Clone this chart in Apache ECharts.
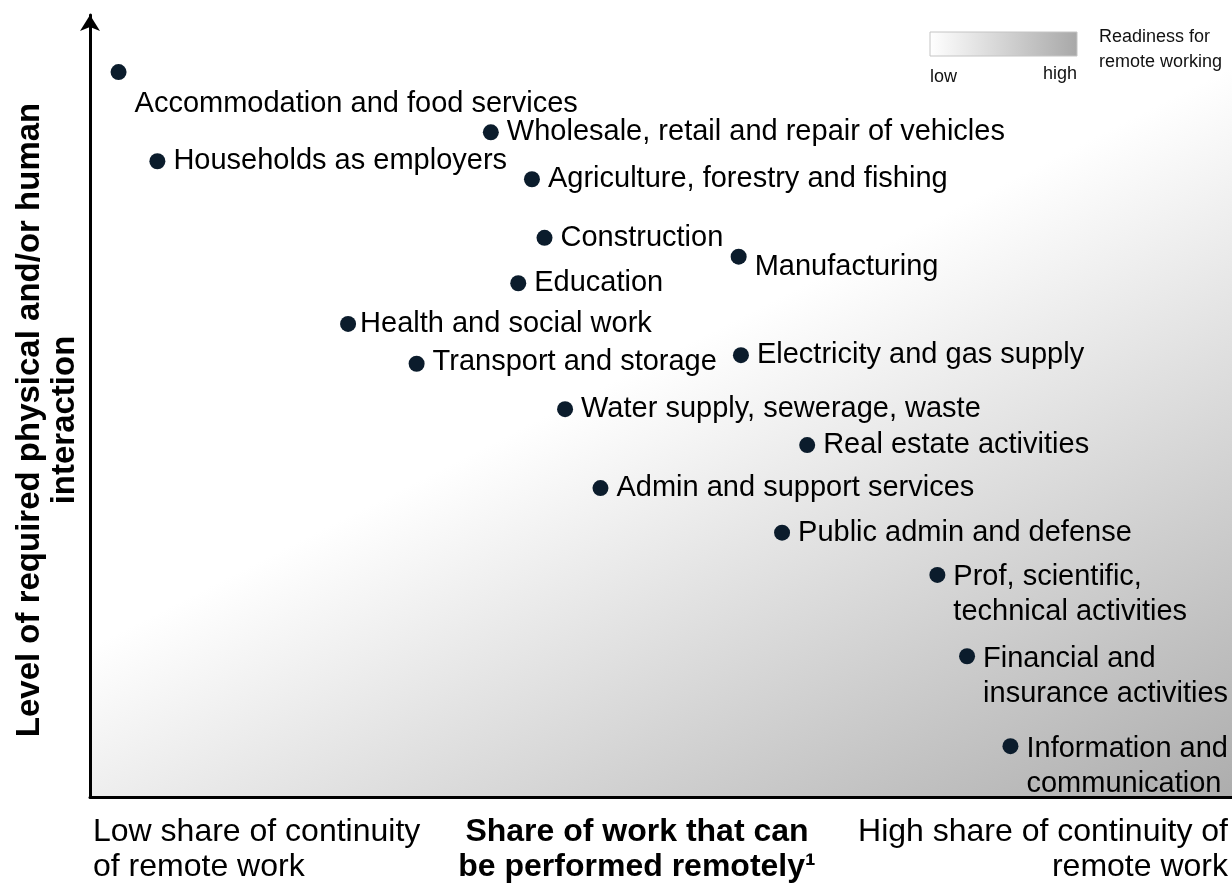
<!DOCTYPE html>
<html>
<head>
<meta charset="utf-8">
<script src="https://cdn.jsdelivr.net/npm/echarts@6/dist/echarts.min.js"></script>
<style>
html,body{margin:0;padding:0;background:#fff}
#chart{width:1232px;height:885px}
</style>
</head>
<body>
<div id="chart"></div>
<script>
// sectors (x = share remote, y = physical interaction, 0-100)
var sectors = [
    'Accommodation and food services',
    'Wholesale, retail and repair of vehicles',
    'Households as employers',
    'Agriculture, forestry and fishing',
    'Construction',
    'Manufacturing',
    'Education',
    'Health and social work',
    'Transport and storage',
    'Electricity and gas supply',
    'Water supply, sewerage, waste',
    'Real estate activities',
    'Admin and support services',
    'Public admin and defense',
    'Prof, scientific,\ntechnical activities',
    'Financial and\ninsurance activities',
    'Information and\ncommunication'
];
var remoteShare = [2.5, 35.1, 5.9, 38.7, 39.8, 56.8, 37.5, 22.6, 28.6, 57.0, 41.6, 62.8, 44.7, 60.6, 74.2, 76.8, 80.6];
var interaction = [92.7, 85.0, 81.3, 79.0, 71.5, 69.1, 65.7, 60.5, 55.4, 56.5, 49.6, 45.0, 39.5, 33.8, 28.4, 18.0, 6.5];

// label nudges (pixels), by sector index
var labelOffset = {0: [0, 32], 5: [0, 10], 7: [-4, 0], 8: [0, -2], 14: [0, 20], 15: [0, 20], 16: [0, 20]};

var font = '"Liberation Sans", Arial, sans-serif';

var points = sectors.map(function (name, i) {
    var item = {name: name, value: [remoteShare[i], interaction[i]]};
    if (labelOffset[i]) {
        item.label = {offset: labelOffset[i]};
    }
    return item;
});

var option = {
    animation: false,
    grid: {
        left: 90, right: 0, top: 15, bottom: 88,
        show: true, borderWidth: 0,
        backgroundColor: new echarts.graphic.LinearGradient(0.742, 0.258, 1, 1, [
            {offset: 0, color: '#ffffff'},
            {offset: 1, color: '#adadad'}
        ])
    },
    xAxis: {
        type: 'value', min: 0, max: 100,
        axisLine: {show: true, lineStyle: {color: '#000', width: 3}},
        axisTick: {show: false}, axisLabel: {show: false}, splitLine: {show: false}
    },
    yAxis: {
        type: 'value', min: 0, max: 100,
        axisLine: {show: true, symbol: ['none', 'arrow'], symbolSize: [15, 16],
            lineStyle: {color: '#000', width: 3}},
        axisTick: {show: false}, axisLabel: {show: false}, splitLine: {show: false}
    },
    series: [{
        type: 'scatter',
        symbolSize: 16,
        itemStyle: {color: '#0b1c2c', opacity: 1},
        label: {
            show: true, position: 'right', distance: 8,
            formatter: '{b}',
            fontFamily: font, fontSize: 29, color: '#000', lineHeight: 35
        },
        data: points
    }],
    graphic: [
        // readiness key
        {type: 'rect', shape: {x: 930, y: 32, width: 147, height: 24},
            style: {fill: new echarts.graphic.LinearGradient(0, 0, 1, 0, [
                {offset: 0, color: '#ffffff'}, {offset: 1, color: '#a8a8a8'}]),
                stroke: '#c4c4c4', lineWidth: 1}},
        {type: 'text', x: 930, y: 77, style: {text: 'low', font: '18px ' + font, fill: '#111', verticalAlign: 'middle'}},
        {type: 'text', x: 1077, y: 74, style: {text: 'high', font: '18px ' + font, fill: '#111', align: 'right', verticalAlign: 'middle'}},
        {type: 'text', x: 1099, y: 50, style: {text: 'Readiness for\nremote working', font: '18px ' + font, lineHeight: 25, fill: '#111', verticalAlign: 'middle'}},
        // axis titles
        {type: 'text', x: 47, y: 420, rotation: Math.PI / 2,
            style: {text: 'Level of required physical and/or human\ninteraction', font: 'bold 33px ' + font,
                lineHeight: 35, fill: '#000', align: 'center', verticalAlign: 'middle'}},
        {type: 'text', x: 637, y: 850,
            style: {text: 'Share of work that can\nbe performed remotely\u00b9', font: 'bold 32px ' + font,
                lineHeight: 35, fill: '#000', align: 'center', verticalAlign: 'middle'}},
        {type: 'text', x: 93, y: 850,
            style: {text: 'Low share of continuity\nof remote work', font: '32px ' + font,
                lineHeight: 35, fill: '#000', align: 'left', verticalAlign: 'middle'}},
        {type: 'text', x: 1228, y: 850,
            style: {text: 'High share of continuity of\nremote work', font: '32px ' + font,
                lineHeight: 35, fill: '#000', align: 'right', verticalAlign: 'middle'}}
    ]
};

var myChart = echarts.init(document.getElementById('chart'));
myChart.setOption(option);
</script>
</body>
</html>
